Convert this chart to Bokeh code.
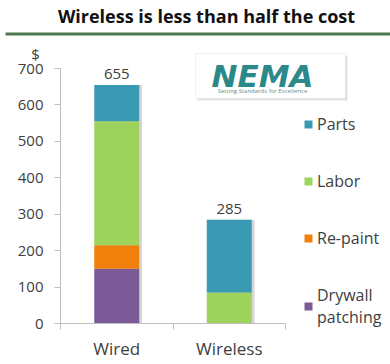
from bokeh.plotting import figure
from bokeh.models import (Range1d, LinearAxis, FixedTicker, Legend, LegendItem,
                          Label, BoxAnnotation, ColumnDataSource)
from bokeh.transform import dodge
from bokeh.embed import file_html
from bokeh.resources import INLINE
from bokeh.core.properties import value

# ---- data ----
categories = ["Wired", "Wireless"]
cat_pos = [1, 2]
drywall = [150, 0]
repaint = [65, 0]
labor = [340, 85]
parts = [100, 200]
totals = [655, 285]
series = ["drywall", "repaint", "labor", "parts"]
series_labels = ["Drywall\npatching", "Re-paint", "Labor", "Parts"]
colors = ["#7a5b97", "#f07f0c", "#9dd35c", "#3a9ab3"]
y_ticks = [0, 100, 200, 300, 400, 500, 600, 700]
y_max = 700

FONT = "Open Sans"
TXT = "#404040"
AX = "#bfbfbf"

W, H = 390, 364
# plot area of the chart inside the canvas (pixels)
PL, PR_CAT, PB, PT = 60, 285, 323, 68
px_per_unit_x = (PR_CAT - PL) / 2.0
px_per_unit_y = (PB - PT) / y_max

src = ColumnDataSource(dict(x=cat_pos, drywall=drywall, repaint=repaint,
                            labor=labor, parts=parts, total=totals,
                            lbl=[str(t) for t in totals]))

x0 = 0.5 - PL / px_per_unit_x
x1 = 0.5 + (W - PL) / px_per_unit_x
y0 = -(H - PB) / px_per_unit_y
y1 = PB / px_per_unit_y

p = figure(width=W, height=H, output_backend="svg", toolbar_location=None,
           x_range=Range1d(x0, x1), y_range=Range1d(y0, y1),
           x_axis_type=None, y_axis_type=None,
           min_border=0, min_border_left=0, min_border_right=0,
           min_border_top=0, min_border_bottom=0)
p.outline_line_color = None
p.xgrid.visible = False
p.ygrid.visible = False
p.background_fill_color = "white"
p.border_fill_color = "white"

# soft shadow to the right of each bar
p.vbar(x=dodge("x", 0.025), top="total", width=0.4, source=src,
       color="#d6d6d6", line_color=None)

renderers = p.vbar_stack(series, x="x", width=0.4, color=colors, source=src,
                         line_color=None)

p.text(x="x", y="total", text="lbl", source=src, text_align="center",
       text_baseline="alphabetic", y_offset=-11, text_font=value(FONT),
       text_font_size="15px", text_color=TXT)

# y axis
yax = LinearAxis(ticker=FixedTicker(ticks=y_ticks), fixed_location=0.5,
                 bounds=(0, y_max))
yax.axis_line_color = AX
yax.major_tick_line_color = AX
yax.major_tick_out = 6
yax.major_tick_in = 0
yax.minor_tick_line_color = None
yax.major_label_standoff = 11
yax.major_label_text_font = FONT
yax.major_label_text_font_size = "15px"
yax.major_label_text_color = TXT
p.add_layout(yax, "left")

# x axis
xax = LinearAxis(ticker=FixedTicker(ticks=cat_pos, minor_ticks=[0.5, 1.5, 2.5]),
                 fixed_location=0, bounds=(0.5, 2.5))
xax.major_label_overrides = {c: n for c, n in zip(cat_pos, categories)}
xax.axis_line_color = AX
xax.major_tick_line_color = None
xax.major_tick_out = 0
xax.major_tick_in = 0
xax.minor_tick_line_color = AX
xax.minor_tick_out = 6
xax.minor_tick_in = 0
xax.major_label_standoff = 7
xax.major_label_text_font = FONT
xax.major_label_text_font_size = "17px"
xax.major_label_text_color = TXT
p.add_layout(xax, "below")

# legend
items = [LegendItem(label=lab, renderers=[r]) for lab, r in zip(series_labels, renderers)]
legend = Legend(items=items[::-1], location=(303, 36), orientation="vertical",
                glyph_width=10, glyph_height=10, label_standoff=4, spacing=35,
                padding=0, margin=0, border_line_color=None,
                background_fill_alpha=0, label_text_font=FONT,
                label_text_font_size="16px", label_text_color=TXT,
                label_height=20)
p.add_layout(legend, "center")

# title and decoration (screen units: from bottom-left of canvas)
p.add_layout(Label(x=206, y=H - 15, x_units="screen", y_units="screen",
                   text="Wireless is less than half the cost",
                   text_align="center", text_baseline="middle",
                   text_font=FONT, text_font_style="bold",
                   text_font_size="18px", text_color="#111111"))
p.add_layout(BoxAnnotation(left=5, right=W, top=H - 32, bottom=H - 35,
                           left_units="screen", right_units="screen",
                           top_units="screen", bottom_units="screen",
                           fill_color="#4b7b4e", fill_alpha=1, line_color=None))
p.add_layout(Label(x=35, y=H - 53, x_units="screen", y_units="screen", text="$",
                   text_align="center", text_baseline="middle",
                   text_font=FONT, text_font_size="15px", text_color=TXT))

# NEMA logo
p.add_layout(BoxAnnotation(left=197, right=347, top=H - 55, bottom=H - 100,
                           left_units="screen", right_units="screen",
                           top_units="screen", bottom_units="screen",
                           fill_color="#e2e2e2", fill_alpha=1, line_color=None))
p.add_layout(BoxAnnotation(left=195, right=345, top=H - 53, bottom=H - 98,
                           left_units="screen", right_units="screen",
                           top_units="screen", bottom_units="screen",
                           fill_color="white", fill_alpha=1,
                           line_color="#cccccc", line_width=1))
p.add_layout(Label(x=262, y=H - 75, x_units="screen", y_units="screen", text="NEMA",
                   text_align="center", text_baseline="middle",
                   text_font="DejaVu Sans", text_font_style="bold italic",
                   text_font_size="31px", text_color="#2b8a89"))
p.add_layout(Label(x=262, y=H - 90, x_units="screen", y_units="screen",
                   text="Setting Standards for Excellence",
                   text_align="center", text_baseline="middle",
                   text_font=FONT, text_font_size="6px", text_color="#5f8f8f"))

open("out.html", "w").write(file_html(p, INLINE))
